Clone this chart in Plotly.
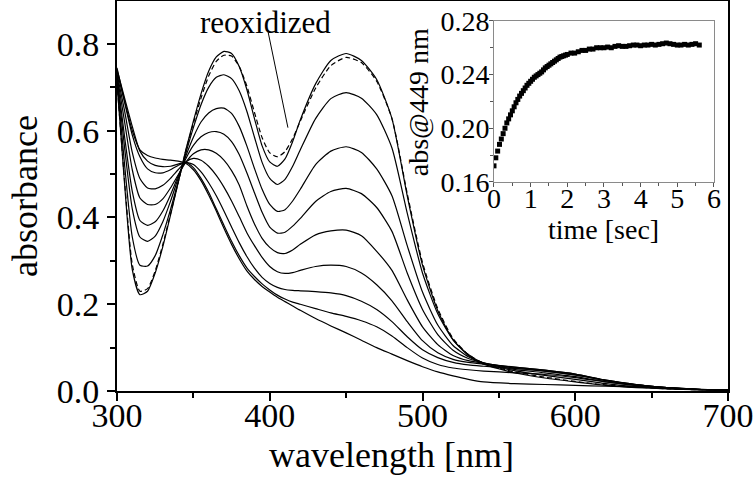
import plotly.graph_objects as go

# ---------------- data ----------------
WL = [300, 305, 310, 315, 320, 325, 330, 335, 340, 345, 350, 355, 360, 365, 370,
      375, 380, 385, 390, 395, 400, 405, 410, 415, 420,
      430, 440, 450, 460, 470, 480, 490, 500, 510, 520, 530, 540,
      560, 580, 600, 620, 640, 660, 680, 700]

A0 = [0.710, 0.475, 0.280, 0.222, 0.230, 0.272, 0.333, 0.405, 0.480, 0.555, 0.622, 0.685, 0.737, 0.770, 0.783,
      0.778, 0.748, 0.695, 0.628, 0.565, 0.528, 0.518, 0.535, 0.575, 0.625,
      0.708, 0.762, 0.778, 0.762, 0.718, 0.628, 0.450, 0.290, 0.185, 0.118, 0.082, 0.062,
      0.042, 0.030, 0.021, 0.013, 0.008, 0.005, 0.003, 0.002]
A1 = [0.715, 0.520, 0.355, 0.290, 0.288, 0.312, 0.360, 0.418, 0.482, 0.547, 0.607, 0.660, 0.700, 0.723, 0.729,
      0.720, 0.692, 0.645, 0.585, 0.527, 0.490, 0.476, 0.488, 0.518, 0.556,
      0.628, 0.674, 0.688, 0.675, 0.637, 0.560, 0.410, 0.272, 0.178, 0.118, 0.084, 0.064,
      0.047, 0.036, 0.027, 0.017, 0.010, 0.006, 0.003, 0.002]
A2 = [0.720, 0.560, 0.420, 0.355, 0.345, 0.357, 0.390, 0.437, 0.490, 0.541, 0.585, 0.620, 0.641, 0.651, 0.652,
      0.640, 0.610, 0.565, 0.513, 0.465, 0.430, 0.414, 0.418, 0.438, 0.465,
      0.522, 0.553, 0.563, 0.550, 0.512, 0.450, 0.335, 0.228, 0.152, 0.105, 0.079, 0.065,
      0.050, 0.042, 0.033, 0.021, 0.013, 0.007, 0.004, 0.002]
A3 = [0.725, 0.585, 0.460, 0.393, 0.382, 0.390, 0.415, 0.452, 0.495, 0.535, 0.566, 0.586, 0.596, 0.598, 0.592,
      0.575, 0.545, 0.503, 0.457, 0.412, 0.378, 0.364, 0.366, 0.380, 0.398,
      0.437, 0.460, 0.467, 0.455, 0.423, 0.368, 0.272, 0.188, 0.130, 0.094, 0.075, 0.065,
      0.053, 0.046, 0.037, 0.024, 0.014, 0.008, 0.004, 0.002]
A4 = [0.728, 0.620, 0.510, 0.445, 0.430, 0.430, 0.443, 0.468, 0.498, 0.527, 0.547, 0.556, 0.556, 0.548, 0.532,
      0.508, 0.475, 0.427, 0.385, 0.352, 0.331, 0.319, 0.317, 0.325, 0.338,
      0.360, 0.369, 0.371, 0.358, 0.322, 0.278, 0.210, 0.148, 0.107, 0.082, 0.070, 0.064,
      0.055, 0.048, 0.039, 0.025, 0.015, 0.008, 0.004, 0.002]
A5 = [0.732, 0.645, 0.550, 0.490, 0.468, 0.466, 0.474, 0.490, 0.510, 0.528, 0.536, 0.532, 0.518, 0.497, 0.470,
      0.438, 0.402, 0.365, 0.335, 0.308, 0.287, 0.275, 0.271, 0.273, 0.278,
      0.287, 0.290, 0.287, 0.272, 0.245, 0.208, 0.160, 0.116, 0.088, 0.073, 0.066, 0.062,
      0.055, 0.048, 0.039, 0.025, 0.015, 0.008, 0.004, 0.002]
A6 = [0.737, 0.665, 0.590, 0.540, 0.512, 0.503, 0.503, 0.510, 0.520, 0.527, 0.522, 0.505, 0.480, 0.450, 0.415,
      0.378, 0.342, 0.310, 0.283, 0.262, 0.248, 0.239, 0.234, 0.232, 0.231,
      0.229, 0.226, 0.220, 0.207, 0.188, 0.160, 0.125, 0.095, 0.077, 0.066, 0.060, 0.057,
      0.052, 0.046, 0.037, 0.024, 0.014, 0.008, 0.004, 0.002]
A7 = [0.741, 0.675, 0.610, 0.553, 0.530, 0.520, 0.517, 0.518, 0.523, 0.527, 0.515, 0.490, 0.458, 0.420, 0.382,
      0.345, 0.312, 0.284, 0.264, 0.247, 0.233, 0.221, 0.212, 0.205, 0.200,
      0.190, 0.180, 0.172, 0.162, 0.148, 0.127, 0.100, 0.076, 0.061, 0.053, 0.049, 0.046,
      0.042, 0.038, 0.031, 0.021, 0.012, 0.007, 0.004, 0.002]
A8 = [0.745, 0.668, 0.600, 0.556, 0.543, 0.537, 0.534, 0.532, 0.530, 0.525, 0.510, 0.485, 0.452, 0.415, 0.375,
      0.338, 0.305, 0.277, 0.257, 0.241, 0.228, 0.216, 0.206, 0.196, 0.186,
      0.167, 0.150, 0.134, 0.117, 0.100, 0.085, 0.070, 0.056, 0.044, 0.035, 0.027, 0.021,
      0.017, 0.015, 0.013, 0.011, 0.009, 0.006, 0.003, 0.002]
REOX = [0.712, 0.482, 0.292, 0.230, 0.236, 0.277, 0.338, 0.408, 0.480, 0.553, 0.617, 0.675, 0.726, 0.760, 0.774,
        0.772, 0.748, 0.703, 0.642, 0.584, 0.549, 0.540, 0.552, 0.582, 0.622,
        0.698, 0.750, 0.769, 0.757, 0.714, 0.628, 0.455, 0.296, 0.190, 0.121, 0.084, 0.064,
        0.044, 0.032, 0.022, 0.014, 0.009, 0.005, 0.003, 0.002]

SPECTRA = [A0, A1, A2, A3, A4, A5, A6, A7, A8]

# inset kinetic trace (absorbance at 449 nm vs time)
T = [0.00, 0.05, 0.10, 0.15, 0.20, 0.25, 0.30, 0.35, 0.40, 0.45,
     0.50, 0.55, 0.60, 0.65, 0.70, 0.75, 0.80, 0.85, 0.90, 0.95,
     1.00, 1.05, 1.10, 1.15, 1.20, 1.25, 1.30, 1.35, 1.40, 1.45,
     1.50, 1.55, 1.60, 1.65, 1.70, 1.75, 1.80, 1.85, 1.90, 1.95,
     2.0, 2.1, 2.2, 2.3, 2.4, 2.5, 2.6, 2.7, 2.8, 2.9,
     3.0, 3.1, 3.2, 3.3, 3.4, 3.5, 3.6, 3.7, 3.8, 3.9,
     4.0, 4.1, 4.2, 4.3, 4.4, 4.5, 4.6, 4.7, 4.8, 4.9,
     5.0, 5.1, 5.2, 5.3, 5.4, 5.5, 5.6]
ABS449 = [0.172, 0.178, 0.183, 0.188, 0.192, 0.196, 0.200, 0.204, 0.207, 0.210,
          0.213, 0.216, 0.219, 0.2215, 0.224, 0.226, 0.228, 0.230, 0.232, 0.2335,
          0.235, 0.2365, 0.238, 0.239, 0.240, 0.241, 0.242, 0.2435, 0.245, 0.246,
          0.247, 0.248, 0.249, 0.250, 0.251, 0.252, 0.253, 0.2535, 0.254, 0.2545,
          0.255, 0.256, 0.256, 0.257, 0.258, 0.258, 0.259, 0.259, 0.260, 0.260,
          0.260, 0.2605, 0.260, 0.261, 0.2615, 0.261, 0.261, 0.2615, 0.262, 0.262,
          0.2615, 0.262, 0.262, 0.2625, 0.262, 0.2625, 0.263, 0.2635, 0.263, 0.2625,
          0.262, 0.262, 0.2625, 0.262, 0.2625, 0.263, 0.262]

X_TICKS = [300, 400, 500, 600, 700]
Y_TICKS = [0.0, 0.2, 0.4, 0.6, 0.8]
FONT = "Liberation Serif"

fig = go.Figure()
for s in SPECTRA:
    fig.add_trace(go.Scatter(x=WL, y=s, mode="lines",
                             line=dict(color="black", width=1.2, shape="spline", smoothing=0.6),
                             hoverinfo="skip"))
fig.add_trace(go.Scatter(x=WL, y=REOX, mode="lines",
                         line=dict(color="black", width=1.2, dash="5px,3px", shape="spline", smoothing=0.6),
                         hoverinfo="skip"))
fig.add_trace(go.Scatter(x=T, y=ABS449, mode="markers", xaxis="x2", yaxis="y2",
                         marker=dict(symbol="square", size=5, color="black", line=dict(width=0)),
                         hoverinfo="skip"))

axis_common = dict(showgrid=False, zeroline=False, showline=True, linecolor="black",
                   linewidth=2, mirror=True, ticks="outside", ticklen=8, tickwidth=1.5,
                   tickcolor="black", automargin=False,
                   tickfont=dict(family=FONT, size=34, color="black"))

fig.update_layout(
    width=755, height=489,
    margin=dict(l=117, r=27, t=1, b=98, autoexpand=False),
    plot_bgcolor="white", paper_bgcolor="white",
    showlegend=False,
    font=dict(family=FONT, color="black"),
    xaxis=dict(range=[300, 700], tickvals=X_TICKS, ticklabelstandoff=-15,
               minor=dict(ticks="outside", ticklen=5, tickwidth=1.5, tickcolor="black", dtick=50, tick0=300),
               **axis_common),
    yaxis=dict(range=[0, 0.899], tickvals=Y_TICKS, tickformat=".1f", ticklabelstandoff=1,
               minor=dict(ticks="outside", ticklen=5, tickwidth=1.5, tickcolor="black", dtick=0.1, tick0=0),
               **axis_common),
    xaxis2=dict(domain=[0.617, 0.977], anchor="y2", range=[0, 6], dtick=1, automargin=False,
                showgrid=False, zeroline=False, showline=True, linecolor="#8a8a8a", linewidth=1,
                mirror=True, ticks="outside", ticklen=4, tickwidth=1, tickcolor="#555555",
                ticklabelstandoff=-13,
                minor=dict(ticks="outside", ticklen=3, tickcolor="#555555", dtick=0.5),
                tickfont=dict(family=FONT, size=28, color="black")),
    yaxis2=dict(domain=[0.536, 0.949], anchor="x2", range=[0.16, 0.28], dtick=0.04, tickformat=".2f",
                showgrid=False, zeroline=False, showline=True, linecolor="#8a8a8a", linewidth=1,
                mirror=True, ticks="outside", ticklen=4, tickwidth=1, tickcolor="#555555",
                ticklabelstandoff=-6, automargin=False,
                minor=dict(ticks="outside", ticklen=3, tickcolor="#555555", dtick=0.02),
                tickfont=dict(family=FONT, size=28, color="black")),
)

fig.add_annotation(text="wavelength [nm]", xref="paper", yref="paper", x=0.449, y=-0.164,
                   xanchor="center", yanchor="middle", showarrow=False,
                   font=dict(family=FONT, size=36, color="black"))
fig.add_annotation(text="absorbance", xref="paper", yref="paper", x=-0.1506, y=0.5,
                   xanchor="center", yanchor="middle", showarrow=False, textangle=-90,
                   font=dict(family=FONT, size=36, color="black"))
fig.add_annotation(text="reoxidized", xref="paper", yref="paper", x=0.243, y=0.946,
                   xanchor="center", yanchor="middle", showarrow=False,
                   font=dict(family=FONT, size=31, color="black"))
fig.add_annotation(text="time [sec]", xref="paper", yref="paper", x=0.796, y=0.414,
                   xanchor="center", yanchor="middle", showarrow=False,
                   font=dict(family=FONT, size=28, color="black"))
fig.add_annotation(text="abs@449 nm", xref="paper", yref="paper", x=0.493, y=0.741,
                   xanchor="center", yanchor="middle", showarrow=False, textangle=-90,
                   font=dict(family=FONT, size=28, color="black"))
# pointer from the label to the reoxidized (dashed) spectrum
fig.add_shape(type="line", xref="x", yref="y", x0=398.9, y0=0.828, x1=411.9, y1=0.607,
              line=dict(color="black", width=1))

fig.write_html("out.html", config={"displayModeBar": False},
               post_script="document.body.style.margin='0';document.body.style.overflow='hidden';")
